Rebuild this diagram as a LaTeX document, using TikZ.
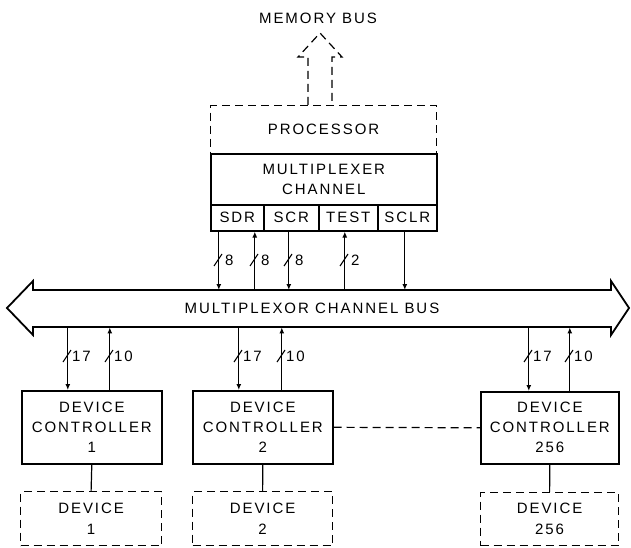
\documentclass[tikz,border=0pt]{standalone}
\usepackage{fontspec}
\setmainfont{Liberation Sans}[LetterSpace=13]
\usetikzlibrary{arrows.meta}
\begin{document}
\begin{tikzpicture}[x=1pt,y=-1pt,
  every node/.style={font=\fontsize{15}{20}\selectfont},
  box/.style={draw, line width=1.6pt, inner sep=0pt, anchor=north west, align=center},
  dbox/.style={draw, line width=1.2pt, dash pattern=on 8pt off 5pt, inner sep=0pt, anchor=north west, align=center},
  sig/.style={line width=1.2pt},
  arr/.style={sig, -{Latex[length=6pt,width=5pt]}},
  wslash/.style={line width=1.1pt},
  num/.style={anchor=west, inner sep=0pt},
  dline/.style={line width=1.2pt, dash pattern=on 8pt off 5pt}
]
\useasboundingbox (0,0) rectangle (631,548);

% processor and memory bus
\node[dbox, minimum width=226pt, minimum height=48pt] (proc) at (210,105) {PROCESSOR};
\node (membus) at (318,18) {MEMORY BUS};
\draw[dline, line join=miter] (308,105) -- (308,57) -- (298,57) -- (320,33) -- (342,57) -- (332,57) -- (332,105);

% multiplexer channel
\node[box, minimum width=226pt, minimum height=51pt] (mux) at (210,153) {MULTIPLEXER\\CHANNEL};
\node[box, minimum width=53pt, minimum height=26pt] (sdr) at (210,204) {SDR};
\node[box, minimum width=55pt, minimum height=26pt] (scr) at (263,204) {SCR};
\node[box, minimum width=59pt, minimum height=26pt] (test) at (318,204) {TEST};
\node[box, minimum width=59pt, minimum height=26pt] (sclr) at (377,204) {SCLR};

% bus
\node[minimum width=578pt, minimum height=37pt, inner sep=0pt, anchor=north west] (bus) at (33,290) {};
\draw[line width=1.8pt, line join=miter] (7,308) -- (33,281) -- (33,290) -- (611,290) -- (611,281) -- (629,308) -- (611,335) -- (611,327) -- (33,327) -- (33,335) -- cycle;
\node (buslabel) at (312,308) {MULTIPLEXOR CHANNEL BUS};

% register connections
\draw[arr] ([xshift=-18.5pt]sdr.south) -- ([xshift=-18.5pt]sdr.south |- bus.north);
\draw[arr] ([xshift=17.5pt]sdr.south |- bus.north) -- ([xshift=17.5pt]sdr.south);
\draw[arr] ([xshift=-2.5pt]scr.south) -- ([xshift=-2.5pt]scr.south |- bus.north);
\draw[arr] ([xshift=-3.5pt]test.south |- bus.north) -- ([xshift=-3.5pt]test.south);
\draw[arr] ([xshift=-2.5pt]sclr.south) -- ([xshift=-2.5pt]sclr.south |- bus.north);
\draw[wslash] (214,266) -- (222,254); \node[num] (w1) at (225,260) {8};
\draw[wslash] (250,266) -- (258,254); \node[num] (w2) at (261,260) {8};
\draw[wslash] (284,266) -- (292,254); \node[num] (w3) at (295,260) {8};
\draw[wslash] (340,266) -- (348,254); \node[num] (w4) at (351,260) {2};

% device controllers
\node[box, minimum width=140pt, minimum height=73pt] (dc1) at (21,390) {DEVICE\\CONTROLLER\\1};
\node[box, minimum width=140pt, minimum height=73pt] (dc2) at (192,390) {DEVICE\\CONTROLLER\\2};
\node[box, minimum width=138pt, minimum height=72pt] (dc3) at (480,391) {DEVICE\\CONTROLLER\\256};

\draw[arr] ([xshift=-24pt]dc1.north |- bus.south) -- ([xshift=-24pt]dc1.north);
\draw[arr] ([xshift=18pt]dc1.north) -- ([xshift=18pt]dc1.north |- bus.south);
\draw[arr] ([xshift=-24pt]dc2.north |- bus.south) -- ([xshift=-24pt]dc2.north);
\draw[arr] ([xshift=19pt]dc2.north) -- ([xshift=19pt]dc2.north |- bus.south);
\draw[arr] ([xshift=-21pt]dc3.north |- bus.south) -- ([xshift=-21pt]dc3.north);
\draw[arr] ([xshift=20pt]dc3.north) -- ([xshift=20pt]dc3.north |- bus.south);

\draw[wslash] (63,362) -- (71,350); \node[num] (a1) at (72,356) {17};
\draw[wslash] (105,362) -- (113,350); \node[num] (b1) at (114,356) {10};
\draw[wslash] (234,362) -- (242,350); \node[num] (a2) at (243,356) {17};
\draw[wslash] (277,362) -- (285,350); \node[num] (b2) at (286,356) {10};
\draw[wslash] (524,362) -- (532,350); \node[num] (a3) at (533,356) {17};
\draw[wslash] (565,362) -- (573,350); \node[num] (b3) at (574,356) {10};

\draw[dline] (dc2.east) -- (dc3.west);

% devices
\node[dbox, minimum width=141pt, minimum height=54pt, font=\fontsize{15}{21}\selectfont] (dev1) at (20,491) {DEVICE\\1};
\node[dbox, minimum width=140pt, minimum height=54pt, font=\fontsize{15}{21}\selectfont] (dev2) at (192,491) {DEVICE\\2};
\node[dbox, minimum width=138pt, minimum height=53pt, font=\fontsize{15}{21}\selectfont] (dev3) at (480,492) {DEVICE\\256};

\draw[sig] (dc1.south) -- (dev1.north);
\draw[sig] (dc2.south) -- (dev2.north);
\draw[sig] (dc3.south) -- (dev3.north);
\end{tikzpicture}
\end{document}
